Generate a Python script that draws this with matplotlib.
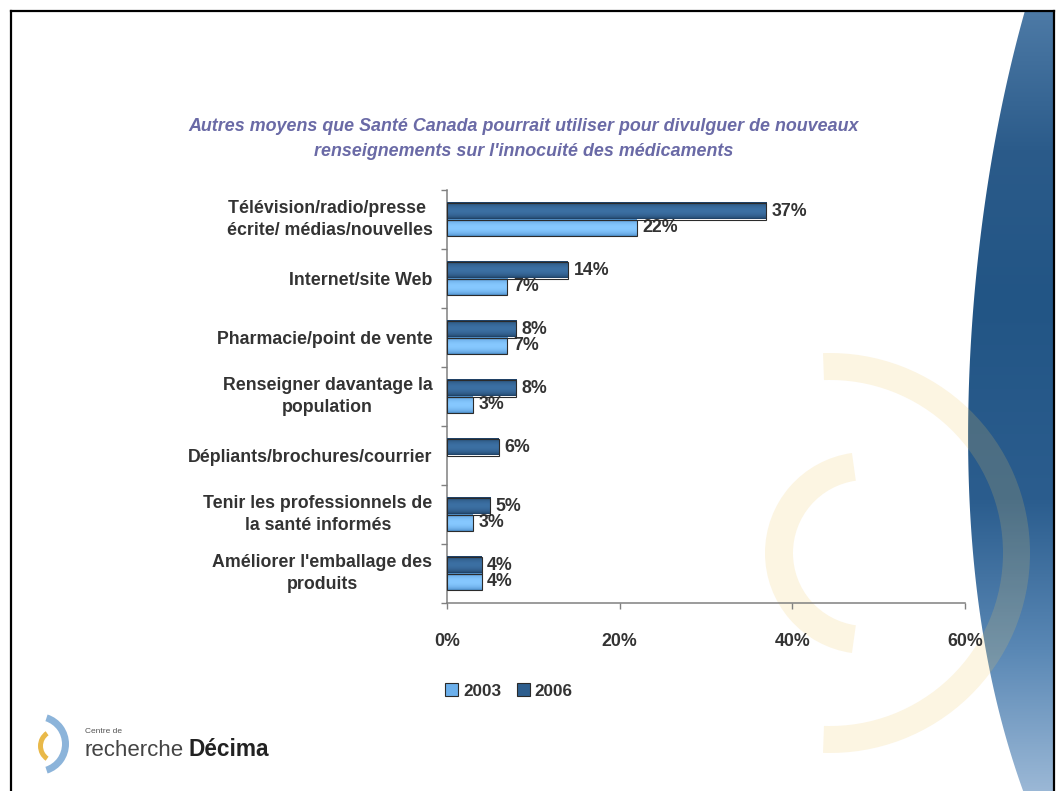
import numpy as np
import matplotlib
matplotlib.use("Agg")
import matplotlib.pyplot as plt
from matplotlib.patches import Wedge, Polygon, Patch
from matplotlib.colors import to_rgb

plt.rcParams['font.family'] = ['Liberation Sans', 'DejaVu Sans']

# Survey data (percent of respondents)
categories = [
    "Télévision/radio/presse \nécrite/ médias/nouvelles",
    "Internet/site Web",
    "Pharmacie/point de vente",
    "Renseigner davantage la\npopulation",
    "Dépliants/brochures/courrier",
    "Tenir les professionnels de\nla santé informés",
    "Améliorer l'emballage des\nproduits",
]
values_2006 = [37, 14, 8, 8, 6, 5, 4]
values_2003 = [22, 7, 7, 3, None, 3, 4]
years = ["2003", "2006"]
xticks = [0, 20, 40, 60]

title = ("Autres moyens que Santé Canada pourrait utiliser pour divulguer de nouveaux\n"
         "renseignements sur l'innocuité des médicaments")

W, H = 1056, 791
fig = plt.figure(figsize=(W / 100, H / 100), dpi=100)
fig.patch.set_facecolor('white')

# background layer in pixel coordinates
bg = fig.add_axes([0, 0, 1, 1], zorder=0)
bg.set_xlim(0, W)
bg.set_ylim(H, 0)
bg.axis('off')

# big blue swoosh on the right (left edge is a smooth curve through a few points)
edge_y = np.array([11, 67, 133, 200, 267, 333, 400, 480, 553, 673, 740, 791])
edge_x = np.array([1025, 1010, 997, 985, 977, 972, 968, 969, 973, 990, 1007, 1023])
coef = np.polyfit(edge_y, edge_x, 4)
ys = np.linspace(11, H, 300)
xs = np.polyval(coef, ys)
verts = list(zip(xs, ys)) + [(1054, H), (1054, 11)]
swoosh = Polygon(verts, closed=True, facecolor='none', edgecolor='none')
bg.add_patch(swoosh)

stops_y = [11, 150, 300, 500, 650, 791]
stops_c = ['#4d7aa6', '#2b5b8a', '#225585', '#2b5d8e', '#5a88b5', '#9bb8d6']
rows = np.arange(11, H)
stop_rgb = np.array([to_rgb(c) for c in stops_c])
grad = np.stack([np.interp(rows, stops_y, stop_rgb[:, k]) for k in range(3)], axis=-1)
grad = grad[:, None, :]
im = bg.imshow(grad, extent=(940, 1054, H, 11), aspect='auto', origin='upper',
               interpolation='bilinear', zorder=1)
im.set_clip_path(swoosh)

# faint yellow rings
ring_col = '#f0c860'
bg.add_patch(Wedge((830, 553), 200, -92, 92, width=27, facecolor=ring_col,
                   edgecolor='none', alpha=0.18, zorder=2))
bg.add_patch(Wedge((866, 553), 101, 98, 262, width=28, facecolor=ring_col,
                   edgecolor='none', alpha=0.18, zorder=2))

# slide border
bg.plot([11, 11], [H, 11], color='black', lw=1.6, solid_capstyle='projecting', zorder=5)
bg.plot([11, 1054], [11, 11], color='black', lw=1.6, solid_capstyle='projecting', zorder=5)
bg.plot([1054, 1054], [11, H], color='black', lw=1.6, solid_capstyle='projecting', zorder=5)

# logo
bg.add_patch(Wedge((38, 744), 31, -72, 72, width=7, facecolor='#8cb4da', edgecolor='none', zorder=3))
bg.add_patch(Wedge((56, 746), 18, 125, 235, width=5, facecolor='#e9b949', edgecolor='none', zorder=3))
bg.text(85, 733, "Centre de", fontsize=6, color='#555555', va='baseline')
bg.text(85, 756, "recherche", fontsize=16, color='#444444', va='baseline')
bg.text(189, 756, "Décima", fontsize=16.3, fontweight='bold', color='#222222', va='baseline')

# chart
ax = fig.add_axes([447 / W, 1 - 603 / H, (965 - 447) / W, (603 - 190) / H], zorder=1)
ax.set_facecolor('none')

y = np.arange(len(categories))
h = 0.287
dark_edge, dark_mid = np.array(to_rgb('#1e3f63')), np.array(to_rgb('#3c70a3'))
light_edge, light_mid = np.array(to_rgb('#4f8fcb')), np.array(to_rgb('#86c8ff'))


def bar_gradient(c_edge, c_mid, n=24):
    t = np.linspace(0, 1, n)
    w = np.sin(np.pi * t) ** 0.6
    return (c_edge[None, :] + (c_mid - c_edge)[None, :] * w[:, None])[:, None, :]


v06 = np.array(values_2006, dtype=float)
v03 = np.array([np.nan if v is None else v for v in values_2003], dtype=float)

bars06 = ax.barh(y - h / 2, v06, height=h, facecolor='none', edgecolor='#2b2b2b',
                 linewidth=0.8, zorder=4)
bars03 = ax.barh(y + h / 2, np.nan_to_num(v03), height=h, facecolor='none',
                 edgecolor='#2b2b2b', linewidth=0.8, zorder=4)

for bars, vals, ce, cm in [(bars06, v06, dark_edge, dark_mid),
                           (bars03, v03, light_edge, light_mid)]:
    g = bar_gradient(ce, cm)
    for b, v in zip(bars, vals):
        if np.isnan(v):
            b.set_visible(False)
            continue
        x0, y0 = b.get_x(), b.get_y()
        ax.imshow(g, extent=(x0, x0 + b.get_width(), y0 + b.get_height(), y0),
                  aspect='auto', origin='upper', interpolation='bilinear', zorder=3)
        ax.annotate(f"{v:.0f}%", (x0 + b.get_width(), y0 + b.get_height() / 2),
                    xytext=(4, 0), textcoords='offset points', va='center', ha='left',
                    fontsize=12.8, fontweight='bold', color='#333333')

ax.set_xlim(0, 60)
ax.set_ylim(len(categories) - 0.5, -0.5)
ax.set_xticks(xticks)
ax.set_xticklabels([f"{t}%" for t in xticks], fontsize=12.8, fontweight='bold', color='#333333')
ax.set_yticks(y)
ax.set_yticklabels(categories, fontsize=12.8, fontweight='bold', color='#333333')
for lab in ax.get_yticklabels():
    lab.set_multialignment('center')
    lab.set_linespacing(1.45)
    if '\n' in lab.get_text():
        lab.set_verticalalignment('center')
ax.set_yticks(np.arange(-0.5, len(categories)), minor=True)
ax.tick_params(axis='y', which='major', length=0, pad=10.5)
ax.tick_params(axis='y', which='minor', length=4.3, direction='out', color='#808080', width=1)
ax.tick_params(axis='x', which='major', length=4.3, direction='out', color='#808080',
               width=1, pad=17)
for side in ['top', 'right']:
    ax.spines[side].set_visible(False)
for side in ['left', 'bottom']:
    ax.spines[side].set_color('#808080')
    ax.spines[side].set_linewidth(1.1)

fig.text(524 / W, 1 - 139 / H, title, ha='center', va='center', multialignment='center',
         fontsize=12.9, fontweight='bold', fontstyle='italic', color='#6a6aa6',
         linespacing=1.55)

handles = [Patch(facecolor='#6cb0ec', edgecolor='#2b2b2b', linewidth=0.8),
           Patch(facecolor='#2e5e8e', edgecolor='#2b2b2b', linewidth=0.8)]
leg = fig.legend(handles, years, loc='center', bbox_to_anchor=(509 / W, 1 - 691 / H), ncol=2,
                 frameon=False, handlelength=0.75, handleheight=0.75, handletextpad=0.3,
                 columnspacing=0.9, prop={'size': 12.3, 'weight': 'bold'})
for t in leg.get_texts():
    t.set_color('#333333')

fig.savefig('out.png', dpi=100)
